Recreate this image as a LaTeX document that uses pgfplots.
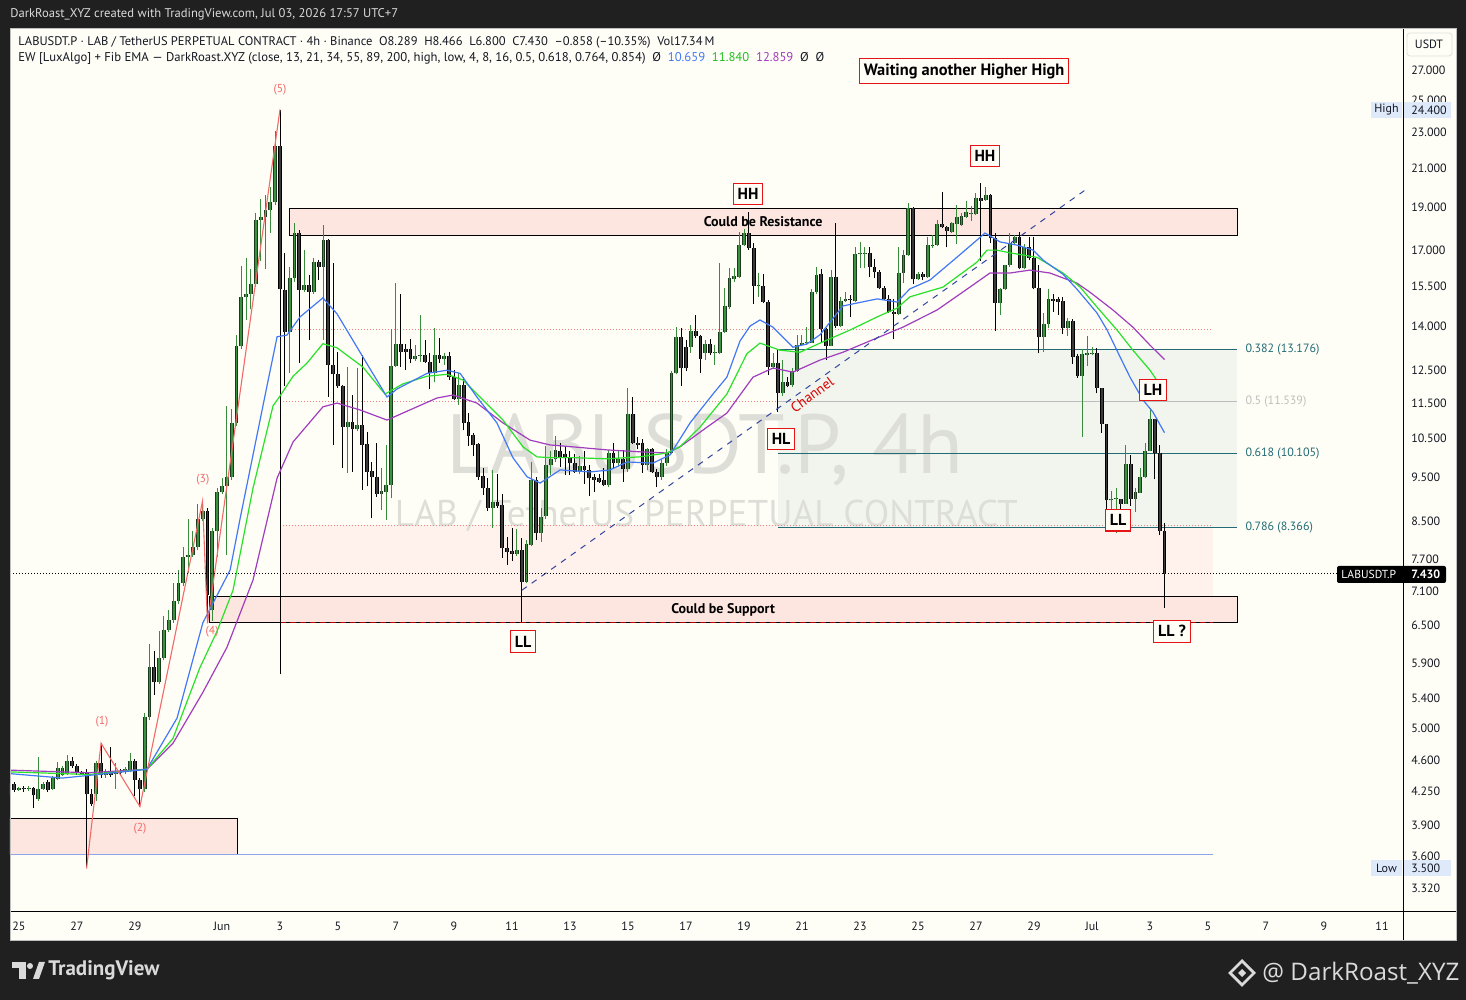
\documentclass[border=0pt]{standalone}
\usepackage{fontspec}
\setmainfont{PT Sans}
\newfontfamily\osans{Open Sans}
\usepackage{pgfplots}
\pgfplotsset{compat=1.18}
\usepackage{pgfplotstable}

\definecolor{bgdark}{RGB}{32,32,32}
\definecolor{panel}{RGB}{255,254,246}
\definecolor{txt}{RGB}{19,23,34}
\definecolor{pinkbox}{RGB}{253,229,224}
\definecolor{pinklight}{RGB}{255,241,236}
\definecolor{fibfill}{RGB}{242,245,237}
\definecolor{teal}{RGB}{34,107,117}
\definecolor{fibgray}{RGB}{190,190,190}
\definecolor{gbody}{RGB}{60,145,64}
\definecolor{gline}{RGB}{25,60,28}
\definecolor{gwick}{RGB}{56,140,60}
\definecolor{dbody}{RGB}{58,58,58}
\definecolor{emablue}{RGB}{66,120,245}
\definecolor{emagreen}{RGB}{40,225,40}
\definecolor{emapurple}{RGB}{160,60,190}
\definecolor{ewred}{RGB}{242,105,105}
\definecolor{dotpink}{RGB}{240,130,130}
\definecolor{chanblue}{RGB}{50,70,160}
\definecolor{lowline}{RGB}{140,165,235}
\definecolor{hlbg}{RGB}{222,234,250}
\definecolor{wmark}{RGB}{222,222,217}
\definecolor{lblred}{RGB}{230,20,20}
\definecolor{tvgray}{RGB}{218,218,218}

% candles: k = index of 4h candle (t = k/6 days after May 25), o h l c
\pgfplotstableread{
k o h l c
-2 4.22 4.35 4.20 4.33
0 4.27 4.30 4.26 4.29
2 4.28 4.31 4.26 4.29
4 4.17 4.64 4.15 4.28
5 4.28 4.36 4.27 4.33
7 4.28 4.42 4.27 4.40
8 4.39 4.58 4.38 4.51
9 4.43 4.54 4.42 4.51
10 4.45 4.67 4.44 4.60
16 4.22 4.60 4.15 4.57
18 4.43 4.50 4.40 4.48
20 4.45 4.57 4.28 4.47
22 4.47 4.53 4.45 4.50
23 4.48 4.69 4.47 4.60
26 4.28 5.20 4.25 5.14
27 5.14 6.21 5.10 5.85
29 5.63 6.42 5.60 5.99
30 5.99 6.67 5.95 6.43
31 6.43 6.76 6.40 6.60
32 6.60 7.26 6.55 6.92
33 6.92 7.50 6.88 7.26
34 7.26 7.96 7.20 7.75
35 7.75 8.55 7.45 7.80
36 7.80 8.28 7.75 7.95
37 7.95 8.89 7.90 8.55
38 8.55 8.95 8.50 8.72
40 6.76 8.35 6.58 8.28
41 8.28 9.25 7.75 9.15
42 9.15 9.50 9.10 9.31
43 9.31 11.40 7.80 9.52
44 9.52 11.33 9.45 10.93
45 10.93 13.69 10.85 13.30
46 13.30 16.34 13.20 15.10
47 15.10 16.66 14.24 15.20
48 15.20 16.23 14.62 15.60
49 15.60 18.73 15.50 18.37
50 18.37 19.42 16.55 18.54
51 18.54 19.61 16.23 18.86
52 18.86 20.00 17.78 19.23
53 19.23 23.10 19.10 22.21
56 13.81 16.31 12.43 15.83
57 15.83 18.23 15.70 17.77
59 15.37 17.02 15.30 15.57
61 15.30 16.66 15.20 16.52
63 16.31 18.15 13.52 17.47
68 10.81 12.63 9.61 10.97
70 10.75 12.57 10.70 10.88
75 9.11 9.73 8.74 9.18
76 9.16 10.33 8.53 9.33
77 9.33 13.90 9.01 12.65
78 12.65 15.63 12.60 13.38
82 12.87 13.35 12.80 12.98
83 12.98 14.41 12.79 13.01
86 12.42 13.95 12.13 13.01
88 12.87 13.07 12.68 12.98
91 11.61 12.43 11.44 12.05
98 8.80 9.69 8.34 8.93
103 7.82 8.33 7.78 7.90
105 7.28 8.10 7.25 8.02
106 8.00 9.90 7.97 9.44
108 8.24 8.80 8.06 8.60
109 8.61 10.29 8.55 9.81
110 9.81 10.16 9.57 9.96
111 9.96 10.57 9.90 10.20
116 9.65 10.03 9.60 9.79
122 9.32 10.20 9.28 10.13
124 9.86 10.18 9.76 9.96
126 9.71 11.95 9.65 11.18
130 9.81 10.25 9.70 10.22
133 9.52 9.96 9.45 9.86
134 9.86 10.22 9.80 10.13
135 10.13 12.47 10.10 12.41
136 12.41 13.99 12.38 13.61
139 13.29 14.05 13.09 13.85
142 13.06 13.52 12.84 13.38
144 13.09 13.35 12.68 13.12
145 13.09 16.45 13.05 13.81
146 13.81 15.43 13.75 14.74
147 14.71 16.24 14.65 15.84
148 15.80 16.24 15.70 15.93
149 15.90 17.84 15.85 17.24
150 17.24 17.95 17.20 17.77
153 15.52 16.04 15.09 15.56
156 12.63 13.06 12.55 12.73
158 11.79 12.84 11.70 12.15
160 12.05 12.57 11.98 12.50
161 12.50 13.70 12.45 13.35
162 13.35 13.70 13.30 13.43
163 13.40 13.99 13.35 13.46
164 13.42 15.40 13.40 15.28
165 15.28 16.31 15.20 15.98
168 13.32 16.17 13.30 15.87
170 14.02 15.11 13.98 14.92
171 14.92 15.30 14.90 15.01
173 14.92 17.17 14.90 16.85
174 16.85 17.39 16.24 16.88
175 16.85 17.17 16.24 16.91
182 14.46 17.17 14.40 16.04
183 16.04 17.03 15.65 16.80
184 16.80 19.19 16.75 18.94
186 15.79 16.10 15.75 16.01
188 15.90 17.62 15.85 17.25
189 17.20 17.69 17.10 17.25
190 17.25 18.39 17.20 18.20
193 17.84 18.31 17.80 18.23
194 18.20 19.11 17.29 18.54
195 18.15 18.70 18.10 18.57
196 18.54 19.28 18.50 18.78
197 18.67 19.05 18.36 18.73
198 18.67 19.69 18.60 19.43
200 19.35 20.02 19.30 19.61
203 14.88 15.43 14.42 15.39
204 15.39 16.40 15.35 16.38
205 16.38 17.77 16.30 17.32
206 17.32 17.69 17.28 17.59
208 16.24 17.30 16.20 17.17
212 13.61 14.50 13.10 14.08
213 14.08 15.39 13.93 15.00
217 13.93 14.29 13.66 14.21
220 12.34 13.20 10.55 13.04
221 13.01 13.66 12.64 13.06
222 13.04 13.29 13.00 13.08
226 8.96 9.17 8.75 8.99
227 8.99 9.24 8.24 9.01
229 8.88 10.33 8.88 9.84
231 8.99 9.24 8.69 9.15
232 9.14 9.73 9.14 9.51
233 9.51 10.39 9.49 10.18
234 10.18 11.35 10.16 11.03
}\upc

\pgfplotstableread{
k o h l c
-1 4.33 4.36 4.25 4.27
1 4.29 4.31 4.25 4.28
3 4.29 4.30 4.07 4.21
6 4.36 4.38 4.25 4.27
11 4.60 4.64 4.52 4.54
12 4.54 4.56 4.44 4.46
13 4.46 4.48 4.43 4.45
14 4.47 4.50 3.49 4.22
15 4.22 4.28 4.10 4.12
17 4.57 4.81 4.40 4.43
19 4.48 4.77 4.41 4.43
21 4.48 4.50 4.44 4.46
24 4.60 4.62 4.20 4.38
25 4.38 4.40 4.09 4.28
28 5.85 6.09 5.45 5.63
39 8.72 8.80 6.54 7.03
54 22.21 24.40 5.74 15.40
55 15.37 16.88 12.00 13.81
58 17.77 17.90 12.74 15.37
60 15.57 15.97 13.52 15.30
62 16.52 16.60 15.76 16.31
64 17.47 17.50 11.69 12.68
65 12.68 16.45 10.33 12.40
66 12.40 13.10 11.95 12.00
67 12.00 12.05 9.73 10.81
69 10.97 11.74 9.65 10.75
71 10.88 13.01 9.20 10.33
72 10.36 10.69 9.29 9.65
73 9.66 9.90 8.56 9.51
74 9.52 10.38 9.05 9.11
79 13.38 15.21 12.63 13.12
80 13.20 13.38 12.52 13.12
81 13.20 13.54 12.76 12.87
84 13.01 13.52 12.74 12.79
85 12.79 13.07 11.92 12.42
87 13.01 13.58 12.76 12.87
89 12.98 13.10 12.21 12.29
90 12.29 12.52 11.59 11.61
92 12.05 12.31 10.72 10.94
93 10.95 11.22 10.31 10.57
94 10.60 10.65 10.03 10.33
95 10.36 10.38 9.45 9.52
96 9.55 9.73 9.09 9.24
97 9.24 9.48 8.73 8.80
99 8.92 9.59 8.80 8.84
100 8.86 9.11 7.73 7.93
101 7.93 8.17 7.60 7.85
102 7.87 8.34 7.67 7.82
104 7.90 8.14 6.57 7.28
107 9.44 9.52 8.10 8.24
112 10.16 10.39 9.77 9.98
113 10.10 10.29 9.57 9.98
114 9.98 10.18 9.57 9.86
115 9.86 10.10 9.61 9.65
117 9.79 10.18 9.35 9.69
118 9.69 9.81 9.06 9.48
119 9.52 9.59 9.16 9.44
120 9.50 9.59 9.38 9.40
121 9.44 9.73 9.30 9.32
123 10.13 10.37 9.73 9.86
125 9.96 10.20 9.40 9.71
127 11.18 11.69 10.35 10.37
128 10.37 10.55 10.22 10.33
129 10.37 10.48 9.62 9.81
131 10.22 10.24 9.62 9.65
132 9.65 9.71 9.27 9.52
137 13.61 13.93 12.02 12.57
138 13.29 13.52 12.50 12.57
140 13.85 14.41 13.60 13.64
141 13.66 13.70 12.43 12.89
143 13.38 13.54 13.00 13.06
151 17.77 18.78 17.03 17.10
152 17.10 17.32 14.82 15.52
154 15.52 16.00 14.85 14.91
155 14.91 14.97 12.36 12.63
157 12.73 13.20 11.25 11.79
159 12.15 12.31 11.98 12.02
166 16.01 16.20 13.43 13.91
167 13.91 13.94 12.85 13.32
169 15.87 18.23 13.95 14.02
172 15.01 15.17 14.34 14.96
176 16.88 17.17 15.87 16.31
177 16.31 16.62 15.83 16.10
178 16.10 16.17 15.40 15.43
179 15.43 15.52 14.96 15.01
180 15.01 15.17 14.48 14.54
181 14.54 15.01 13.54 14.46
185 18.94 19.02 15.60 15.79
187 16.01 16.10 15.75 15.90
191 18.20 19.77 18.00 18.04
192 18.04 18.11 17.14 17.89
199 19.43 20.19 16.57 19.32
201 19.61 19.65 17.34 17.55
202 17.55 17.77 13.83 14.88
207 17.59 17.84 16.20 16.24
209 17.17 17.62 16.60 16.67
210 16.67 17.62 15.39 15.43
211 15.43 16.38 13.07 13.61
214 15.00 15.22 14.53 14.95
215 15.00 15.11 14.41 14.91
216 14.95 15.11 13.73 13.93
218 14.21 14.26 12.71 12.93
219 12.97 13.04 12.27 12.34
223 13.06 13.23 11.79 11.94
224 11.94 11.94 10.66 10.90
225 10.90 10.90 8.75 8.96
228 8.99 8.99 8.75 8.88
230 9.84 10.07 8.84 8.99
235 11.03 11.03 9.46 10.13
236 10.13 10.33 8.21 8.289
237 8.289 8.466 6.800 7.430
}\dnc

\pgfplotsset{
  cwick/.style={draw=none, mark=none, forget plot,
    error bars/.cd, y dir=plus, y explicit, error mark=none,
    error bar style={line width=0.5pt, draw=#1, solid}},
  cbody/.style 2 args={draw=none, mark=none, forget plot,
    error bars/.cd, y dir=plus, y explicit, error mark=none,
    error bar style={line width=#1, draw=#2, solid}},
}

\tikzset{lbl/.style={draw=lblred, line width=0.6pt, fill=panel, text=black,
  font=\fontsize{8}{9}\selectfont\bfseries, inner xsep=2.2pt, inner ysep=2.6pt},
  ewl/.style={text=ewred, font=\fontsize{5.8}{7}\selectfont}}

\begin{document}
\begin{tikzpicture}
\useasboundingbox (0,0) rectangle (733pt,500pt);
\fill[bgdark] (0,0) rectangle (733pt,500pt);
\begin{scope}[x=0.5pt,y=-0.5pt,shift={(0,500pt)}]
  \fill[panel] (10,28) rectangle (1456,940);
  \node[anchor=west, text=tvgray, font=\fontsize{6.3}{7}\selectfont, inner sep=0pt] at (10,14)
    {DarkRoast\_XYZ created with TradingView.com, Jul 03, 2026 17:57 UTC+7};
  \node[anchor=west, text=txt, font=\fontsize{6.25}{7}\selectfont, inner sep=0pt] at (18,42)
    {LABUSDT.P · LAB / TetherUS PERPETUAL CONTRACT · 4h · Binance\ \ O8.289\ \ H8.466\ \ L6.800\ \ C7.430\ \ –0.858 (–10.35\%)\ \ Vol17.34\,M};
  \node[anchor=west, text=txt, font=\fontsize{6.35}{7}\selectfont, inner sep=0pt] at (18,58)
    {EW [LuxAlgo] + Fib EMA — DarkRoast.XYZ (close, 13, 21, 34, 55, 89, 200, high, low, 4, 8, 16, 0.5, 0.618, 0.764, 0.854)\ \ Ø\ \ {\color{emablue}10.659}\ \ {\color{emagreen!85!black}11.840}\ \ {\color{emapurple}12.859}\ \ Ø\ \ Ø};
\end{scope}

\begin{axis}[
  at={(5pt,44pt)}, anchor=south west,
  scale only axis, width=696.5pt, height=442pt,
  ymode=log, ymin=3.122, ymax=30.07,
  xmin=-0.3103, xmax=47.724,
  axis y line*=right, axis x line*=bottom,
  axis line style={draw=none},
  major tick length=0pt,
  xtick={0,2,4,7,9,11,13,15,17,19,21,23,25,27,29,31,33,35,37,39,41,43,45,47},
  xticklabels={25,27,29,Jun,3,5,7,9,11,13,15,17,19,21,23,25,27,29,Jul,3,5,7,9,11},
  ytick={27,25,23,21,19,17,15.5,14,12.5,11.5,10.5,9.5,8.5,7.7,7.1,6.5,5.9,5.4,5,4.6,4.25,3.9,3.6,3.32},
  yticklabels={27.000,25.000,23.000,21.000,19.000,17.000,15.500,14.000,12.500,11.500,10.500,9.500,8.500,7.700,7.100,6.500,5.900,5.400,5.000,4.600,4.250,3.900,3.600,3.320},
  yticklabel style={anchor=west, inner sep=0pt, xshift=4pt, font=\fontsize{6}{7}\selectfont, text=txt},
  xticklabel style={anchor=north, inner sep=0pt, yshift=-5pt, font=\fontsize{6}{7}\selectfont, text=txt},
  /pgf/number format/assume math mode=true,
]
% zones
\fill[pinklight] (axis cs:9.0,6.55) rectangle (axis cs:41.17,8.41);
\fill[fibfill] (axis cs:26.17,8.366) rectangle (axis cs:42.0,13.176);
% watermark
\node[text=wmark, font=\fontsize{42}{42}\selectfont] at (axis cs:23.66,10.2) {LABUSDT.P, 4h};
\node[text=wmark, font=\fontsize{18.6}{19}\selectfont] at (axis cs:23.7,8.62) {LAB / TetherUS PERPETUAL CONTRACT};
% boxes
\filldraw[fill=pinkbox, draw=black, line width=0.5pt] (axis cs:6.586,6.55) rectangle (axis cs:42.0,7.0);
\filldraw[fill=pinkbox, draw=black, line width=0.5pt] (axis cs:9.34,17.69) rectangle (axis cs:42.0,18.96);
\filldraw[fill=pinkbox, draw=black, line width=0.5pt] (axis cs:-0.5,3.62) rectangle (axis cs:7.52,3.97);
\node[font=\fontsize{7}{8}\selectfont\bfseries, text=black] at (axis cs:25.66,18.32) {Could be Resistance};
\node[font=\fontsize{7}{8}\selectfont\bfseries, text=black] at (axis cs:24.28,6.77) {Could be Support};
% level lines
\draw[dotpink, densely dotted, line width=0.5pt] (axis cs:9.0,13.90) -- (axis cs:41.17,13.90);
\draw[dotpink, densely dotted, line width=0.5pt] (axis cs:9.0,11.56) -- (axis cs:41.17,11.56);
\draw[dotpink, densely dotted, line width=0.5pt] (axis cs:9.0,8.41) -- (axis cs:41.17,8.41);
\draw[red!70!black, densely dashed, line width=0.5pt] (axis cs:9.0,6.55) -- (axis cs:41.17,6.55);
\draw[lowline, line width=0.6pt] (axis cs:-0.5,3.62) -- (axis cs:41.17,3.62);
\draw[teal, line width=0.5pt] (axis cs:26.17,13.176) -- (axis cs:42.0,13.176);
\draw[fibgray, line width=0.5pt] (axis cs:26.17,11.539) -- (axis cs:42.0,11.539);
\draw[teal, line width=0.5pt] (axis cs:26.17,10.105) -- (axis cs:42.0,10.105);
\draw[teal, line width=0.5pt] (axis cs:26.17,8.366) -- (axis cs:42.0,8.366);
\node[anchor=west, text=teal, font=\fontsize{6}{7}\selectfont, inner sep=0pt] at (axis cs:42.28,13.176) {0.382 (13.176)};
\node[anchor=west, text=fibgray, font=\fontsize{6}{7}\selectfont, inner sep=0pt] at (axis cs:42.28,11.539) {0.5 (11.539)};
\node[anchor=west, text=teal, font=\fontsize{6}{7}\selectfont, inner sep=0pt] at (axis cs:42.28,10.105) {0.618 (10.105)};
\node[anchor=west, text=teal, font=\fontsize{6}{7}\selectfont, inner sep=0pt] at (axis cs:42.28,8.366) {0.786 (8.366)};

% candles: wicks
\addplot[cwick=gwick] table[x expr=\thisrow{k}/6, y=l, y error plus expr=\thisrow{h}-\thisrow{l}] {\upc};
\addplot[cwick=black] table[x expr=\thisrow{k}/6, y=l, y error plus expr=\thisrow{h}-\thisrow{l}] {\dnc};
% candles: bodies
\addplot[cbody={1.95pt}{gline}] table[x expr=\thisrow{k}/6, y=o, y error plus expr=\thisrow{c}-\thisrow{o}] {\upc};
\addplot[cbody={0.95pt}{gbody}] table[x expr=\thisrow{k}/6, y=o, y error plus expr=\thisrow{c}-\thisrow{o}] {\upc};
\addplot[cbody={1.95pt}{black}] table[x expr=\thisrow{k}/6, y=c, y error plus expr=\thisrow{o}-\thisrow{c}] {\dnc};
\addplot[cbody={0.95pt}{dbody}] table[x expr=\thisrow{k}/6, y=c, y error plus expr=\thisrow{o}-\thisrow{c}] {\dnc};

% EMAs
\addplot[emapurple, line width=0.6pt, no marks] coordinates {
(-0.31,4.49) (2.41,4.46) (4.41,4.50) (5.31,4.81) (6.34,5.48) (7.17,6.15) (8.07,7.31) (8.90,9.49) (9.45,10.41) (10.48,11.39) (10.97,11.50) (11.76,11.30) (12.69,11.01) (13.48,11.30) (14.41,11.65) (14.97,11.74) (15.79,11.50) (16.69,10.93) (17.62,10.46) (18.31,10.33) (19.10,10.28) (20.28,10.20) (21.41,10.15) (22.34,10.12) (22.79,10.28) (23.72,10.81) (24.41,11.21) (25.31,12.29) (26.0,12.58) (26.69,12.45) (27.62,12.84) (28.41,13.10) (29.59,13.59) (30.48,13.97) (31.66,14.60) (32.79,15.48) (33.48,16.05) (34.17,16.05) (34.86,16.17) (35.55,16.05) (36.48,15.64) (36.93,15.28) (37.72,14.60) (38.41,13.97) (39.0,13.34) (39.5,12.859)};
\addplot[emagreen, line width=0.6pt, no marks] coordinates {
(-0.31,4.47) (2.41,4.44) (4.41,4.50) (5.31,4.87) (6.24,5.84) (6.83,6.41) (7.38,7.12) (8.07,9.25) (8.76,11.42) (9.0,11.71) (9.45,12.32) (9.93,12.74) (10.48,13.39) (10.97,13.25) (11.86,12.61) (12.62,11.77) (13.24,12.08) (14.07,12.32) (14.76,12.38) (15.31,12.20) (16.0,11.59) (16.69,11.01) (17.38,10.28) (17.86,10.02) (18.31,10.0) (19.10,10.0) (20.28,9.97) (21.41,10.02) (22.34,10.12) (22.79,10.28) (23.48,10.81) (24.41,11.77) (25.10,13.05) (25.55,13.41) (26.24,13.17) (26.93,13.10) (27.62,13.41) (28.66,13.87) (29.59,14.34) (30.28,14.67) (30.72,15.10) (31.86,15.48) (33.03,16.50) (33.38,17.02) (33.72,17.02) (34.17,16.90) (35.10,16.71) (36.0,16.05) (36.59,15.48) (37.17,14.71) (37.86,13.87) (38.41,13.17) (39.0,12.51) (39.5,11.84)};
\addplot[emablue, line width=0.6pt, no marks] coordinates {
(-0.31,4.45) (1.5,4.40) (2.41,4.43) (4.41,4.50) (5.45,5.13) (6.34,6.55) (7.28,7.50) (7.62,8.54) (8.55,12.01) (8.90,13.63) (9.24,13.69) (9.69,14.34) (10.48,15.06) (10.97,14.45) (11.86,12.94) (12.69,11.68) (13.03,11.92) (14.07,12.41) (14.76,12.51) (15.21,12.41) (15.79,11.68) (16.48,10.93) (17.03,10.0) (17.52,9.52) (17.97,9.37) (18.66,9.69) (19.69,9.64) (20.38,9.69) (20.97,9.89) (21.86,9.86) (22.45,10.07) (23.14,10.93) (23.93,11.77) (24.41,12.29) (24.86,13.48) (25.21,14.01) (25.55,14.23) (26.0,13.97) (26.69,13.27) (27.17,13.38) (27.62,13.70) (28.41,14.75) (29.59,15.02) (30.28,14.90) (30.72,15.41) (31.41,15.76) (32.34,16.71) (33.03,17.46) (33.31,17.78) (33.55,17.60) (33.83,17.38) (34.41,17.24) (34.97,17.02) (35.31,16.59) (36.0,16.0) (36.48,15.40) (37.17,14.49) (37.52,13.87) (37.97,12.94) (38.31,12.29) (38.76,11.59) (39.10,11.24) (39.5,10.659)};

% Elliott wave line
\addplot[ewred, line width=0.55pt, no marks] coordinates {(2.33,3.49) (2.83,4.81) (4.17,4.09) (6.33,8.95) (6.5,6.54) (9.0,24.40)};
\node[ewl] at (axis cs:2.86,5.08) {(1)};
\node[ewl] at (axis cs:4.17,3.87) {(2)};
\node[ewl] at (axis cs:6.34,9.44) {(3)};
\node[ewl] at (axis cs:6.66,6.41) {(4)};
\node[ewl] at (axis cs:9.0,25.65) {(5)};

% channel
\draw[chanblue, line width=0.5pt, dash pattern=on 3pt off 3pt] (axis cs:17.34,7.12) -- (axis cs:36.76,19.85);
\node[text=red!85!black, rotate=36, font=\fontsize{7}{8}\selectfont] at (axis cs:27.35,11.75) {Channel};

% last price line
\draw[black, densely dotted, line width=0.5pt] (axis cs:-0.31,7.43) -- (axis cs:47.72,7.43);

% labels
\node[lbl, font=\fontsize{8.2}{9}\selectfont\bfseries] at (axis cs:32.59,26.93) {Waiting another Higher High};
\node[lbl] at (axis cs:25.14,19.65) {HH};
\node[lbl] at (axis cs:33.31,21.66) {HH};
\node[lbl] at (axis cs:26.28,10.49) {HL};
\node[lbl] at (axis cs:17.38,6.24) {LL};
\node[lbl] at (axis cs:37.9,8.52) {LL};
\node[lbl] at (axis cs:39.1,11.89) {LH};
\node[lbl] at (axis cs:39.76,6.41) {LL ?};
\end{axis}

\begin{scope}[x=0.5pt,y=-0.5pt,shift={(0,500pt)}]
  \draw[black, line width=0.5pt] (1403,28) -- (1403,940);
  \draw[black, line width=0.5pt] (10,912) -- (1456,912);
  \draw[gray!50, line width=0.4pt] (10,28) rectangle (1456,940);
  % USDT
  \filldraw[fill=panel, draw=gray!25, rounded corners=1.5pt] (1407,33) rectangle (1452,56);
  \node[text=txt, font=\fontsize{6}{7}\selectfont] at (1429,44.5) {USDT};
  % High / Low
  \fill[hlbg] (1371,102) rectangle (1402,118);
  \fill[hlbg] (1404,102) rectangle (1451,118);
  \node[text=txt, font=\fontsize{6}{7}\selectfont] at (1386.5,110) {High};
  \node[anchor=west, inner sep=0pt, text=txt, font=\fontsize{6}{7}\selectfont] at (1411,110) {24.400};
  \fill[hlbg] (1371,860) rectangle (1402,876);
  \fill[hlbg] (1404,860) rectangle (1451,876);
  \node[text=txt, font=\fontsize{6}{7}\selectfont] at (1386.5,868) {Low};
  \node[anchor=west, inner sep=0pt, text=txt, font=\fontsize{6}{7}\selectfont] at (1411,868) {3.500};
  % last price label
  \fill[black, rounded corners=1pt] (1337,566) rectangle (1446,583);
  \node[anchor=west, inner sep=0pt, text=white, font=\fontsize{5.8}{7}\selectfont] at (1341,574.5) {LABUSDT.P};
  \node[anchor=west, inner sep=0pt, text=white, font=\fontsize{6}{7}\selectfont\bfseries] at (1411,574.5) {7.430};
  % TradingView logo
  \fill[tvgray] (12,962) rectangle (26,968);
  \fill[tvgray] (19,962) rectangle (26,979);
  \fill[tvgray] (30,966) circle (3);
  \fill[tvgray] (33,979) -- (39,962) -- (45,962) -- (39,979) -- cycle;
  \node[anchor=west, inner sep=0pt, text=tvgray, font=\fontsize{10.5}{12}\selectfont\bfseries] at (48,970) {TradingView};
  % author
  \draw[tvgray, line width=1.4pt] (1242,961) -- (1254,973) -- (1242,985) -- (1230,973) -- cycle;
  \fill[tvgray] (1242,969) -- (1246,973) -- (1242,977) -- (1238,973) -- cycle;
  \node[anchor=west, inner sep=0pt, text=tvgray, font=\osans\fontsize{12.1}{14}\selectfont] at (1262,973) {@ DarkRoast\_XYZ};
\end{scope}
\end{tikzpicture}
\end{document}
